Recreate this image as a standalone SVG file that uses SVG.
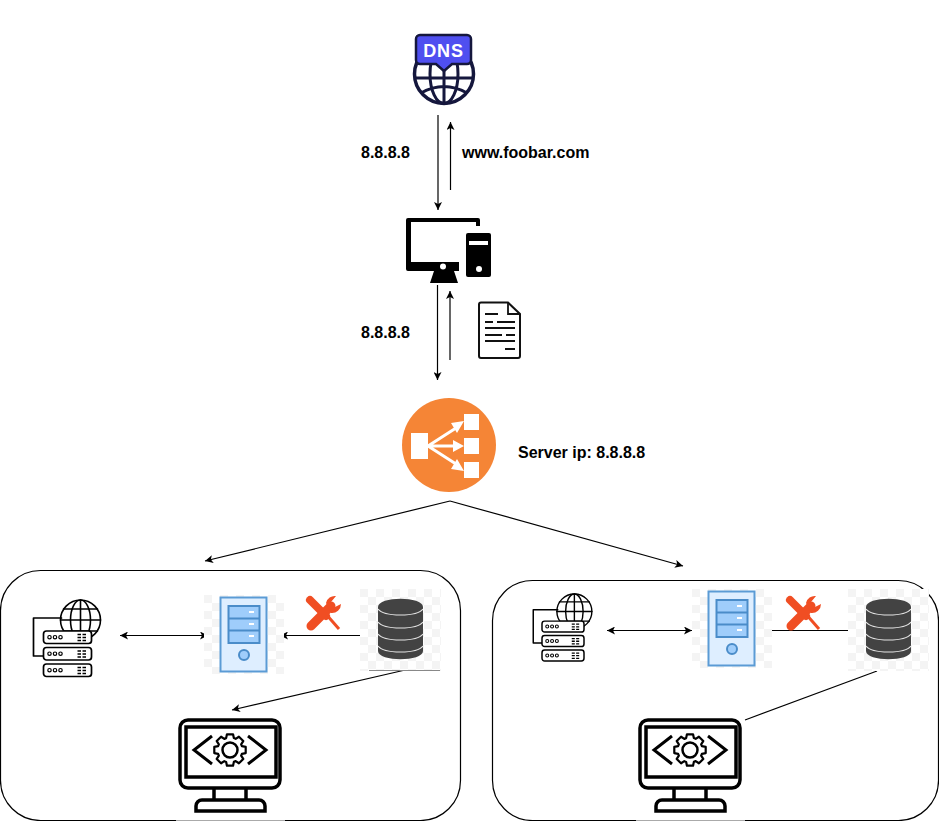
<svg xmlns="http://www.w3.org/2000/svg" width="939" height="821" viewBox="0 0 939 821">
<style>
text{font-family:"Liberation Sans",Arial,sans-serif;font-size:16px;font-weight:700;fill:#000}
.c{fill:none;stroke:#000;stroke-width:1.2}
.a{marker-end:url(#h)}
.b{marker-start:url(#h);marker-end:url(#h)}
.box{fill:#fff;stroke:#000;stroke-width:1.2}
.k{fill:none;stroke:#000;stroke-linecap:round;stroke-linejoin:round}
</style>
<defs>
<marker id="h" viewBox="0 0 8 8" refX="8" refY="4" markerWidth="8" markerHeight="8" markerUnits="userSpaceOnUse" orient="auto-start-reverse"><path d="M0 0L8 4L0 8L2 4Z" fill="#000"/></marker>
<pattern id="chk" width="16" height="16" patternUnits="userSpaceOnUse"><rect width="16" height="16" fill="#fff"/><rect width="8" height="8" fill="#f4f4f4"/><rect x="8" y="8" width="8" height="8" fill="#f4f4f4"/></pattern>
<g id="srv">
<rect x="0" y="0" width="80" height="79" fill="url(#chk)"/>
<rect x="16.500" y="2.500" width="46" height="74" fill="#deeeff" stroke="#5b9bd5" stroke-width="2"/>
<rect x="24.500" y="11" width="31" height="37" fill="#9fcdfb" stroke="#4a8cc9" stroke-width="2"/>
<path d="M24.500 23.500H55.500M24.500 35.500H55.500" stroke="#4a8cc9" stroke-width="2"/>
<path d="M45 17h5M45 29h5M45 41h5" stroke="#fff" stroke-width="2"/>
<circle cx="40" cy="60" r="5" fill="#9fcdfb" stroke="#4a8cc9" stroke-width="2"/>
</g>
<g id="db">
<rect x="0" y="0" width="81" height="82" fill="url(#chk)"/>
<path d="M18 18c0-11 45-11 45 0v44c0 11-45 11-45 0Z" fill="#434343"/>
<path d="M18 20c6 8 39 8 45 0M18 33c6 8 39 8 45 0M18 45c6 8 39 8 45 0M18 57c6 8 39 8 45 0" fill="none" stroke="#e6e6e6" stroke-width="1.200"/>
</g>
<g id="tool">
<path d="M4 4L20 20" stroke="#f04e23" stroke-width="8" stroke-linecap="round"/>
<path d="M19 17L33 33" stroke="#f04e23" stroke-width="3"/>
<path d="M5 30L25 10" stroke="#f04e23" stroke-width="9" stroke-linecap="round"/>
<path d="M20 7A9 9 0 0 1 30 0L25 6L29 11L35 8A9 9 0 0 1 25 17Z" fill="#f04e23"/>
</g>
<g id="code">
<rect x="2" y="2" width="100" height="68" rx="8" fill="#fff" stroke="#000" stroke-width="3.500"/>
<rect x="8" y="9" width="90" height="50" fill="#fff" stroke="#000" stroke-width="3.500"/>
<path d="M34 18L16 32L34 46M70 18L88 32L70 46" fill="none" stroke="#000" stroke-width="3"/>
<circle cx="52" cy="32" r="7.500" fill="none" stroke="#000" stroke-width="2.500"/>
<path transform="translate(52 32)" fill="none" stroke="#000" stroke-width="2.200" stroke-linejoin="round" d="M15.700-3.050L15.700 3.050L11.900 3.860L11.140 5.670L13.260 8.940L8.940 13.260L5.680 11.140L3.870 11.880L3.050 15.700L-3.050 15.700L-3.860 11.900L-5.670 11.140L-8.940 13.260L-13.260 8.940L-11.140 5.680L-11.880 3.870L-15.700 3.050L-15.700-3.050L-11.900-3.860L-11.140-5.670L-13.260-8.940L-8.940-13.260L-5.680-11.140L-3.870-11.880L-3.050-15.700L3.050-15.700L3.860-11.900L5.670-11.140L8.940-13.260L13.260-8.940L11.140-5.680L11.880-3.870Z"/>
<path d="M36 71V82M68 71V82" stroke="#000" stroke-width="3.500" fill="none"/>
<path d="M18 93V88a6 6 0 0 1 6-6H81a6 6 0 0 1 6 6V93Z" fill="#fff" stroke="#000" stroke-width="3.500"/>
</g>
<g id="row"><rect x="0" y="31" width="48" height="12.500" rx="3" fill="#fff" stroke="#000" stroke-width="1.700"/><circle cx="6" cy="37.200" r="1.700" fill="none" stroke="#000" stroke-width="1.200"/><circle cx="11.500" cy="37.200" r="1.700" fill="none" stroke="#000" stroke-width="1.200"/><circle cx="17" cy="37.200" r="1.700" fill="none" stroke="#000" stroke-width="1.200"/><path d="M34 34.500h3.500M39 34.500h3.500M34 37.500h3.500M39 37.500h3.500M34 40.500h3.500M39 40.500h3.500" stroke="#000" stroke-width="1.500"/></g>
<g id="rack">
<circle cx="37" cy="20" r="20" fill="#fff" stroke="#000" stroke-width="1.600"/>
<ellipse cx="37" cy="20" rx="10" ry="20" class="k" stroke-width="1.600"/>
<path d="M37 0V40M17 20H57M20 9H54M20 31H54" class="k" stroke-width="1.600"/>
<path d="M18 18H-10V56H0" class="k" stroke-width="1.700"/>
<use href="#row"/>
<use href="#row" y="16.500"/>
<use href="#row" y="33"/>
</g>
</defs>
<rect width="939" height="821" fill="#fff"/>

<g id="box-left"><rect class="box" x="0.500" y="570.500" width="460" height="250" rx="40"/><path d="M176 820.500H285" stroke="#aaa" stroke-width="1.200"/></g>
<g id="box-right"><rect class="box" x="492.500" y="580.500" width="446" height="240" rx="40"/><path d="M636 820.500H745" stroke="#aaa" stroke-width="1.200"/></g>

<g id="connectors">
<path class="c a" d="M438 115V210"/>
<path class="c a" d="M450.500 190V122"/>
<path class="c a" d="M437.500 285V380"/>
<path class="c a" d="M450 360V291"/>
<path class="c a" d="M450 501L205 561"/>
<path class="c a" d="M450 501L683 566"/>
<path class="c b" d="M120 635.500H208"/>
<path class="c a" d="M360 635.500H280"/>
<path class="c a" d="M403 670.500L232 710"/>
<path class="c b" d="M607 630.500H692"/>
<path class="c" d="M772 630.500H848"/>
<path class="c" d="M877 671L745 720"/>
</g>

<g id="dns">
<circle cx="444" cy="74" r="29.500" fill="#fff" stroke="#15173d" stroke-width="3.500"/>
<ellipse cx="444" cy="74" rx="14" ry="29.500" fill="none" stroke="#15173d" stroke-width="3"/>
<path d="M444 66V104M416 78H472M419 62H469M421 93Q444 80 467 93" fill="none" stroke="#15173d" stroke-width="3"/>
<path d="M420 35H467a4 4 0 0 1 4 4V60a4 4 0 0 1-4 4H452L444 71L436 64H420a4 4 0 0 1-4-4V39a4 4 0 0 1 4-4Z" fill="#4f4ff0" stroke="#15173d" stroke-width="2.500"/>
<text x="443.500" y="56.500" text-anchor="middle" style="font-size:18px;letter-spacing:.9px;fill:#fff">DNS</text>
</g>

<g id="computer">
<path d="M408 218H478a2 2 0 0 1 2 2V226H476V222H411V262H459V271H408a2 2 0 0 1-2-2V220a2 2 0 0 1 2-2Z" fill="#000"/>
<circle cx="443" cy="266.500" r="3" fill="#fff"/>
<path d="M434 271H454L458 283H430Z" fill="#000"/>
<rect x="466" y="233" width="25" height="44" rx="2" fill="#000"/>
<rect x="469" y="241" width="19" height="4" fill="#fff"/>
<circle cx="479" cy="269" r="3" fill="#fff"/>
</g>

<g id="document">
<path d="M481 302.500H508L520 314V356a2 2 0 0 1-2 2H481a2 2 0 0 1-2-2V304.500a2 2 0 0 1 2-2Z" fill="#fff" stroke="#111" stroke-width="2"/>
<path d="M508 302.500V314H520" fill="none" stroke="#111" stroke-width="1.800"/>
<path d="M485 314H498M485 322H493M497 322H515M485 328H515M485 335H502M506 335H515M485 341H515M505 349H515" stroke="#111" stroke-width="1.800" fill="none"/>
</g>

<g id="load-balancer">
<circle cx="449" cy="445" r="47" fill="#f58536"/>
<rect x="411" y="433" width="17" height="26" fill="#fff"/>
<rect x="464" y="414" width="15" height="16" fill="#fff"/>
<rect x="464" y="438" width="15" height="16" fill="#fff"/>
<rect x="464" y="462" width="15" height="16" fill="#fff"/>
<path d="M428 446L456 428M428 446H456M428 446L456 464" stroke="#fff" stroke-width="3" fill="none"/>
<path d="M464 421L451 423L457 433ZM464 446L453 440V452ZM464 471L451 469L457 459Z" fill="#fff"/>
</g>

<g id="labels">
<text x="361" y="158">8.8.8.8</text>
<text x="462" y="158">www.foobar.com</text>
<text x="361" y="338">8.8.8.8</text>
<text x="518" y="458">Server ip: 8.8.8.8</text>
</g>

<g id="left-rack"><use href="#rack" transform="translate(43.500,600)"/></g>
<g id="left-server"><use href="#srv" x="204" y="595"/></g>
<g id="left-tools"><use href="#tool" x="306" y="596"/></g>
<g id="left-db"><use href="#db" x="360" y="589"/><path d="M369 670.500H440" stroke="#888" stroke-width="1" fill="none"/></g>
<g id="left-code"><use href="#code" x="178" y="718"/></g>

<g id="right-rack"><use href="#rack" transform="translate(542,594) scale(.875)"/></g>
<g id="right-server"><use href="#srv" x="692" y="589"/></g>
<g id="right-tools"><use href="#tool" x="786" y="596"/></g>
<g id="right-db"><use href="#db" x="848" y="589"/></g>
<g id="right-code"><use href="#code" x="638" y="718"/></g>
</svg>
